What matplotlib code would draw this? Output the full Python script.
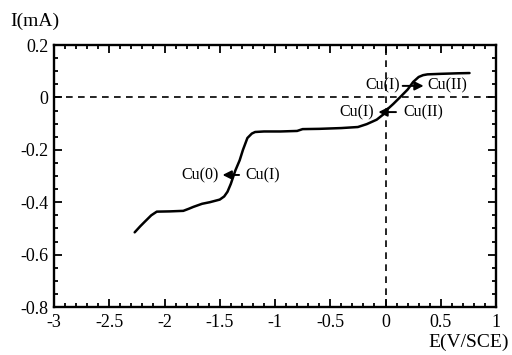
import matplotlib
matplotlib.use('Agg')
import matplotlib.pyplot as plt
from matplotlib.ticker import MultipleLocator

# polarisation curve
potential = [-2.27, -2.22, -2.18, -2.12, -2.07, -1.95, -1.83, -1.78, -1.74, -1.66,
             -1.59, -1.50, -1.46, -1.43, -1.40, -1.36, -1.32, -1.29, -1.25, -1.21,
             -1.18, -1.10, -0.95, -0.80, -0.75, -0.60, -0.40, -0.25, -0.17, -0.08,
             -0.02, 0.01, 0.07, 0.13, 0.20, 0.25, 0.30, 0.34, 0.38, 0.50, 0.65, 0.76]
current = [-0.515, -0.492, -0.475, -0.450, -0.436, -0.435, -0.433, -0.425, -0.418, -0.406,
           -0.400, -0.390, -0.378, -0.360, -0.330, -0.280, -0.240, -0.200, -0.155, -0.138,
           -0.132, -0.130, -0.130, -0.128, -0.121, -0.120, -0.117, -0.113, -0.102, -0.085,
           -0.065, -0.048, -0.025, 0.000, 0.030, 0.059, 0.078, 0.085, 0.088, 0.090, 0.092, 0.093]

x_ticks = [-3, -2.5, -2, -1.5, -1, -0.5, 0, 0.5, 1]
x_ticklabels = ['-3', '-2.5', '-2', '-1.5', '-1', '-0.5', '0', '0.5', '1']
y_ticks = [-0.8, -0.6, -0.4, -0.2, 0, 0.2]
y_ticklabels = ['-0.8', '-0.6', '-0.4', '-0.2', '0', '0.2']

plt.rcParams['font.family'] = ['Liberation Serif', 'DejaVu Serif']
fs_tick = 13
fs_lab = 14
fs_ann = 11.5

fig = plt.figure(figsize=(5.12, 3.55), dpi=100)
ax = fig.add_axes([0.1055, 0.1352, 0.8633, 0.738])

ax.plot(potential, current, color='black', lw=1.8, solid_capstyle='round')

# reference lines at zero
ax.axhline(0, color='black', lw=1.2, ls=(0, (4, 3.2)))
ax.axvline(0, color='black', lw=1.2, ls=(0, (4, 3.2)))

ax.set_xlim(-3, 1)
ax.set_ylim(-0.8, 0.2)
ax.set_xticks(x_ticks)
ax.set_xticklabels(x_ticklabels, fontsize=fs_tick)
ax.set_yticks(y_ticks)
ax.set_yticklabels(y_ticklabels, fontsize=fs_tick)
ax.xaxis.set_minor_locator(MultipleLocator(0.1))
ax.yaxis.set_minor_locator(MultipleLocator(0.05))
ax.tick_params(which='both', direction='in', top=True, right=True, width=1.3)
ax.tick_params(which='major', length=6)
ax.tick_params(which='minor', length=3)
ax.tick_params(axis='x', which='major', pad=5)
ax.tick_params(axis='y', which='major', pad=4)
for sp in ax.spines.values():
    sp.set_linewidth(1.7)

# axis labels placed like in the scan
fig.text(0.0195, 0.941, 'I(mA)', fontsize=fs_lab, ha='left', va='center')
fig.text(0.994, 0.037, 'E(V/SCE)', fontsize=fs_lab, ha='right', va='center')

# redox annotations
arrow = dict(arrowstyle='-|>', color='black', lw=1.4, mutation_scale=13)
ax.annotate('', xy=(-1.50, -0.296), xytext=(-1.30, -0.296), arrowprops=arrow)
ax.text(-1.51, -0.296, 'Cu(0)', fontsize=fs_ann, ha='right', va='center')
ax.text(-1.27, -0.296, 'Cu(I)', fontsize=fs_ann, ha='left', va='center')

ax.annotate('', xy=(0.37, 0.044), xytext=(0.13, 0.044), arrowprops=arrow)
ax.text(0.13, 0.044, 'Cu(I)', fontsize=fs_ann, ha='right', va='center')
ax.text(0.38, 0.044, 'Cu(II)', fontsize=fs_ann, ha='left', va='center')

ax.annotate('', xy=(-0.09, -0.056), xytext=(0.12, -0.056), arrowprops=arrow)
ax.text(-0.10, -0.056, 'Cu(I)', fontsize=fs_ann, ha='right', va='center')
ax.text(0.16, -0.056, 'Cu(II)', fontsize=fs_ann, ha='left', va='center')

fig.savefig('out.png', dpi=100)
